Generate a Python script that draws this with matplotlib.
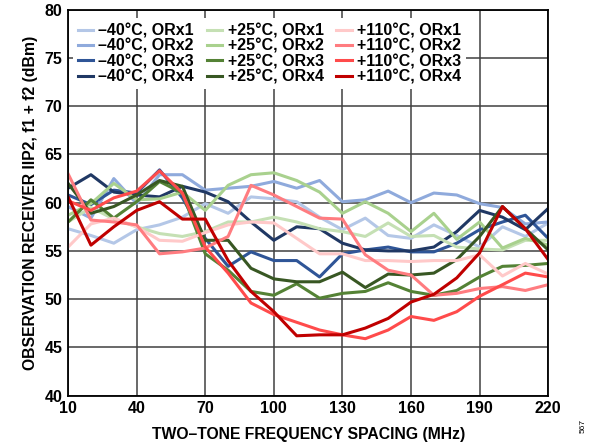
import numpy as np
import matplotlib.pyplot as plt

plt.rcParams['font.family'] = ['Liberation Sans', 'DejaVu Sans']
plt.rcParams['font.weight'] = 'bold'

freq = np.arange(10, 221, 10)

m40_orx1 = [57.3, 56.6, 55.8, 57.2, 57.7, 58.5, 59.9, 58.9, 60.6, 60.4, 60.1, 58.5, 57.2, 58.4, 56.6, 56.3, 57.7, 56.6, 55.4, 57.5, 56.5, 57.9]
m40_orx2 = [59.6, 58.4, 62.5, 59.9, 62.9, 62.9, 61.3, 61.5, 61.7, 62.2, 61.5, 62.3, 60.1, 60.3, 61.2, 60.0, 61.0, 60.8, 59.9, 59.5, 57.8, 58.0]
m40_orx3 = [60.8, 59.8, 61.3, 61.0, 63.4, 60.5, 56.3, 53.4, 54.9, 54.0, 54.0, 52.3, 54.7, 55.1, 55.4, 54.9, 54.9, 55.8, 57.2, 58.0, 58.7, 56.3]
m40_orx4 = [61.5, 62.9, 61.1, 60.8, 60.6, 61.7, 61.1, 60.1, 58.0, 56.1, 57.5, 57.3, 55.8, 55.1, 55.0, 55.0, 55.4, 57.0, 59.2, 58.5, 57.2, 59.4]

p25_orx1 = [58.0, 59.5, 58.3, 57.5, 56.8, 56.5, 57.0, 58.0, 58.0, 58.5, 58.0, 57.3, 57.0, 56.5, 57.9, 56.5, 56.6, 55.4, 55.2, 55.1, 56.1, 56.1]
p25_orx2 = [58.7, 59.9, 62.0, 60.3, 60.4, 61.1, 59.2, 61.8, 62.9, 63.1, 62.3, 61.1, 58.9, 60.1, 58.9, 57.0, 58.9, 56.2, 58.0, 55.3, 56.3, 55.6]
p25_orx3 = [58.0, 60.3, 58.4, 60.1, 62.2, 61.0, 54.7, 53.0, 50.8, 50.4, 51.6, 50.1, 50.6, 50.8, 51.7, 50.8, 50.4, 50.9, 52.3, 53.4, 53.5, 53.7]
p25_orx4 = [62.0, 58.9, 59.6, 60.8, 62.3, 61.7, 56.1, 56.1, 53.2, 52.1, 51.8, 51.8, 52.8, 51.2, 52.6, 52.5, 52.7, 54.1, 56.5, 59.6, 57.3, 55.1]

p110_orx1 = [55.4, 57.8, 58.4, 57.5, 56.1, 56.0, 56.9, 57.7, 58.0, 57.9, 56.3, 54.7, 54.7, 54.0, 54.0, 53.9, 54.0, 54.0, 54.6, 52.4, 53.7, 52.6]
p110_orx2 = [63.0, 58.2, 58.0, 57.7, 54.7, 54.9, 55.3, 56.5, 61.8, 60.8, 59.6, 58.4, 58.3, 54.6, 53.0, 52.5, 50.4, 50.6, 51.1, 51.3, 50.9, 51.5]
p110_orx3 = [60.2, 59.2, 60.5, 61.2, 63.3, 61.0, 55.4, 52.7, 49.6, 48.4, 47.6, 46.8, 46.3, 45.9, 46.8, 48.2, 47.8, 48.7, 50.3, 51.5, 52.7, 52.3]
p110_orx4 = [60.6, 55.6, 57.5, 59.2, 60.1, 58.3, 58.3, 54.0, 50.8, 48.7, 46.2, 46.3, 46.3, 47.0, 48.0, 49.7, 50.5, 52.2, 54.8, 59.6, 57.3, 54.1]

labels = ['–40°C, ORx1', '–40°C, ORx2', '–40°C, ORx3', '–40°C, ORx4',
          '+25°C, ORx1', '+25°C, ORx2', '+25°C, ORx3', '+25°C, ORx4',
          '+110°C, ORx1', '+110°C, ORx2', '+110°C, ORx3', '+110°C, ORx4']
series = [m40_orx1, m40_orx2, m40_orx3, m40_orx4,
          p25_orx1, p25_orx2, p25_orx3, p25_orx4,
          p110_orx1, p110_orx2, p110_orx3, p110_orx4]
colors = ['#b4c7e7', '#8faadc', '#2f5597', '#203864',
          '#c5e0b4', '#a9d18e', '#548235', '#385723',
          '#ffc9c9', '#ff7c80', '#ff4b4b', '#c00000']

fig = plt.figure(figsize=(5.92, 4.44), dpi=100)
ax = fig.add_axes([0.115, 0.109, 0.811, 0.869])

for vals, lab, col in zip(series, labels, colors):
    ax.plot(freq, vals, color=col, linewidth=2.2, label=lab)

ax.set_xlim(10, 220)
ax.set_ylim(40, 80)
ax.set_xticks(np.arange(10, 221, 30))
ax.set_yticks(np.arange(40, 81, 5))
ax.grid(True, color='#404040', linewidth=1.1)
ax.set_axisbelow(True)
for s in ax.spines.values():
    s.set_color('black')
    s.set_linewidth(1.3)
ax.tick_params(length=0, labelsize=11.5, pad=4)
for t in ax.get_xticklabels() + ax.get_yticklabels():
    t.set_fontweight('bold')

ax.set_xlabel('TWO–TONE FREQUENCY SPACING (MHz)', fontsize=11.3, fontweight='bold', labelpad=8)
ax.set_ylabel('OBSERVATION RECEIVER IIP2, f1 + f2 (dBm)', fontsize=11.3, fontweight='bold', labelpad=5)

leg = ax.legend(ncol=3, loc='upper left', bbox_to_anchor=(0.0, 0.99), fontsize=11.5,
                handlelength=0.95, handletextpad=0.35, columnspacing=0.8,
                labelspacing=0.02, borderaxespad=0.3, borderpad=0.3,
                frameon=True, fancybox=False)
leg.get_frame().set_facecolor('white')
leg.get_frame().set_edgecolor('none')
leg.get_frame().set_alpha(1.0)
for t in leg.get_texts():
    t.set_fontweight('bold')

fig.text(0.985, 0.04, '567', rotation=90, fontsize=6, ha='center', va='center', fontweight='normal')

fig.savefig('out.png', dpi=100)
